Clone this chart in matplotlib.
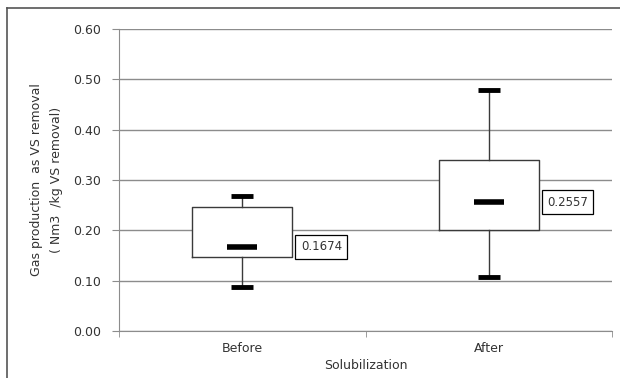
import matplotlib
matplotlib.use("Agg")
import matplotlib.pyplot as plt
from matplotlib.lines import Line2D

# summary values per group
groups = ["Before", "After"]
q1 = [0.147, 0.201]
q3 = [0.247, 0.339]
whislo = [0.087, 0.107]
whishi = [0.268, 0.479]
medians = [0.1674, 0.2557]
median_labels = ["0.1674", "0.2557"]

yticks = [0.0, 0.1, 0.2, 0.3, 0.4, 0.5, 0.6]

plt.rcParams["font.family"] = ["DejaVu Sans"]
txt = "#333333"

fig = plt.figure(figsize=(6.2, 3.78), dpi=100)
ax = fig.add_axes([119 / 620, 1 - 331 / 378, (612 - 119) / 620, (331 - 29) / 378])

positions = [1, 2]
stats = []
for i in range(len(groups)):
    stats.append(dict(med=medians[i], q1=q1[i], q3=q3[i],
                      whislo=whislo[i], whishi=whishi[i], fliers=[]))

ax.bxp(stats, positions=positions, widths=0.405, capwidths=0.09,
       showfliers=False,
       boxprops=dict(color="#3a3a3a", linewidth=1.0),
       whiskerprops=dict(color="#3a3a3a", linewidth=1.0),
       capprops=dict(color="black", linewidth=3.5, solid_capstyle="butt"),
       medianprops=dict(visible=False),
       zorder=3)

# white fill behind boxes so the gridlines don't show through
for p, lo, hi in zip(positions, q1, q3):
    ax.add_patch(plt.Rectangle((p - 0.2025, lo), 0.405, hi - lo,
                               facecolor="white", edgecolor="none", zorder=2))

# short thick median dashes
ax.plot(positions, medians, linestyle="none", marker="_", markersize=22,
        markeredgewidth=4, color="black", zorder=4)

for p, m, lab in zip(positions, medians, median_labels):
    ax.text(p + 0.2025 + 0.035, m, lab, fontsize=8.5, va="center", ha="left",
            color=txt,
            bbox=dict(boxstyle="square,pad=0.45", facecolor="white",
                      edgecolor="black", linewidth=0.9), zorder=5)

ax.set_xlim(0.5, 2.5)
ax.set_ylim(0, 0.6)
ax.set_yticks(yticks)
ax.set_yticklabels(["%.2f" % v for v in yticks], fontsize=9, color=txt)
ax.yaxis.grid(True, color="#8c8c8c", linewidth=1.0, zorder=0)
ax.set_axisbelow(True)

ax.set_xticks(positions)
ax.set_xticklabels(groups, fontsize=9, color=txt)
ax.set_xticks([0.5, 1.5, 2.5], minor=True)
ax.tick_params(axis="x", which="major", length=0, pad=8)
ax.tick_params(axis="x", which="minor", length=4, color="#8c8c8c")
ax.tick_params(axis="y", length=5, color="#8c8c8c", pad=8)

for side in ["top", "right"]:
    ax.spines[side].set_visible(False)
for side in ["left", "bottom"]:
    ax.spines[side].set_color("#8c8c8c")

ax.set_xlabel("Solubilization", fontsize=9, labelpad=3, color=txt)
ax.set_ylabel("Gas production  as VS removal\n( Nm3  /kg VS removal)",
              fontsize=9, linespacing=1.7, color=txt)
ax.yaxis.set_label_coords(-0.113, 0.5)

# outer chart frame (top and left edges)
fig.add_artist(Line2D([7 / 620, 1], [1 - 8 / 378, 1 - 8 / 378],
                      color="#555555", linewidth=1.2))
fig.add_artist(Line2D([7 / 620, 7 / 620], [0, 1 - 8 / 378],
                      color="#555555", linewidth=1.2))

fig.savefig("out.png", dpi=100)
